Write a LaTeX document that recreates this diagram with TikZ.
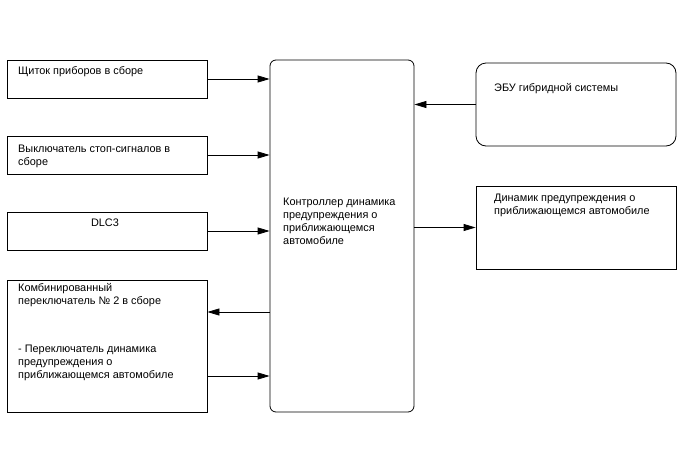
\documentclass[tikz,border=0pt]{standalone}
\usepackage{fontspec}
\setmainfont{Liberation Sans}
\usetikzlibrary{arrows.meta}
\begin{document}
\begin{tikzpicture}[
    x=1pt, y=-1pt,
    box/.style={draw, rectangle, line width=0.8pt, minimum width=200pt, inner sep=0pt},
    rbox/.style={box, rounded corners=10pt},
    txt/.style={anchor=north west, inner sep=0pt, align=left,
                font=\fontsize{10.9}{13}\selectfont},
    link/.style={-{Triangle[length=12pt, width=7pt]}, line width=0.8pt}]
    \useasboundingbox (0,0) rectangle (688,463);
    % left column
    \node[box, minimum height=38pt]  (panel) at (107,79)  {};
    \node[box, minimum height=38pt]  (stop)  at (107,155) {};
    \node[box, minimum height=38pt]  (dlc)   at (107,231) {};
    \node[box, minimum height=132pt] (comb)  at (107,346) {};
    % controller
    \node[box, rounded corners=6pt, minimum width=144pt, minimum height=352pt] (ctrl) at (342,236) {};
    % right column
    \node[rbox, minimum height=83pt] (ecu) at (576,104.5) {};
    \node[box, minimum height=83pt]  (spk) at (576,227.5) {};
    % texts
    \node[txt] (panelT) at (18,66)  {Щиток приборов в сборе};
    \node[txt] (stopT)  at (18,145) {Выключатель стоп-сигналов в\\сборе};
    \node[txt, anchor=north] (dlcT) at (105,219) {DLC3};
    \node[txt] (combT)  at (18,283) {Комбинированный\\переключатель № 2 в сборе};
    \node[txt] (combS)  at (18,345) {- Переключатель динамика\\предупреждения о\\приближающемся автомобиле};
    \node[txt] (ctrlT)  at (283,198) {Контроллер динамика\\предупреждения о\\приближающемся\\автомобиле};
    \node[txt] (ecuT)   at (494,83)  {ЭБУ гибридной системы};
    \node[txt] (spkT)   at (494,194) {Динамик предупреждения о\\приближающемся автомобиле};
    % connectors
    \foreach \a in {panel, stop, dlc}
        \draw[link] (\a.east) -- (ctrl.west |- \a.east);
    \draw[link] (ctrl.west |- 0,312) -- (comb.east |- 0,312);
    \draw[link] (comb.east |- 0,376) -- (ctrl.west |- 0,376);
    \draw[link] (ecu.west) -- (ctrl.east |- ecu.west);
    \draw[link] (ctrl.east |- spk.west) -- (spk.west);
\end{tikzpicture}
\end{document}
